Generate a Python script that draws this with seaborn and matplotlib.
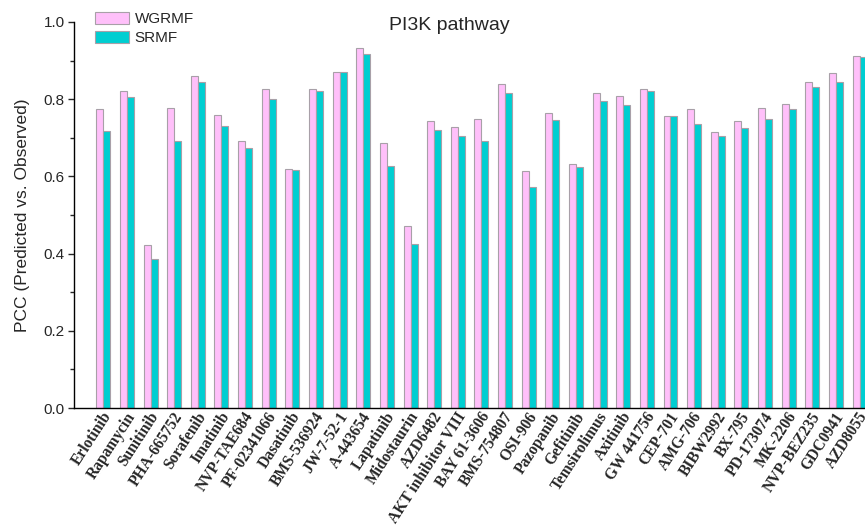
import numpy as np
import pandas as pd
import seaborn as sns
import matplotlib
matplotlib.use('Agg')
import matplotlib.pyplot as plt
import matplotlib.transforms as mtransforms
from matplotlib.ticker import MultipleLocator, FormatStrFormatter

drugs = ['Erlotinib', 'Rapamycin', 'Sunitinib', 'PHA-665752', 'Sorafenib', 'Imatinib',
         'NVP-TAE684', 'PF-02341066', 'Dasatinib', 'BMS-536924', 'JW-7-52-1', 'A-443654',
         'Lapatinib', 'Midostaurin', 'AZD6482', 'AKT inhibitor VIII', 'BAY 61-3606',
         'BMS-754807', 'OSI-906', 'Pazopanib', 'Gefitinib', 'Temsirolimus', 'Axitinib',
         'GW 441756', 'CEP-701', 'AMG-706', 'BIBW2992', 'BX-795', 'PD-173074', 'MK-2206',
         'NVP-BEZ235', 'GDC0941', 'AZD8055']

wgrmf = [0.774, 0.822, 0.422, 0.778, 0.860, 0.758, 0.693, 0.827, 0.619, 0.826, 0.870,
         0.932, 0.686, 0.471, 0.743, 0.729, 0.749, 0.839, 0.615, 0.763, 0.631, 0.817,
         0.807, 0.826, 0.756, 0.774, 0.716, 0.743, 0.776, 0.788, 0.845, 0.868, 0.913]

srmf = [0.718, 0.806, 0.385, 0.692, 0.844, 0.730, 0.673, 0.801, 0.617, 0.821, 0.871,
        0.918, 0.628, 0.426, 0.721, 0.704, 0.693, 0.816, 0.572, 0.747, 0.625, 0.796,
        0.784, 0.822, 0.756, 0.736, 0.704, 0.725, 0.750, 0.775, 0.832, 0.845, 0.909]

methods = ['WGRMF', 'SRMF']
colors = ['#FFC0FA', '#00CED1']

df = pd.DataFrame({
    'drug': drugs * 2,
    'pcc': wgrmf + srmf,
    'method': ['WGRMF'] * len(drugs) + ['SRMF'] * len(drugs),
})

sns.set_style('ticks')
plt.rcParams['font.family'] = ['Liberation Sans', 'DejaVu Sans']

fig = plt.figure(figsize=(8.65, 5.27), dpi=100)
ax = fig.add_axes([74/865, 119/527, 791/865, 386/527])

sns.barplot(data=df, x='drug', y='pcc', hue='method', order=drugs, hue_order=methods,
            palette=colors, width=0.59, edgecolor='#a8a0a8', linewidth=0.8,
            saturation=1, ax=ax)

ax.set_xlim(-1.24, 32.23)
ax.set_ylim(0, 1.0)
ax.yaxis.set_major_locator(MultipleLocator(0.2))
ax.yaxis.set_minor_locator(MultipleLocator(0.1))
ax.yaxis.set_major_formatter(FormatStrFormatter('%.1f'))
ax.tick_params(axis='y', which='major', length=4.5, width=1, labelsize=11, pad=2)
ax.tick_params(axis='y', which='minor', length=3, width=1)
ax.tick_params(axis='x', length=0, pad=4)
ax.set_xlabel('')
ax.set_ylabel('PCC (Predicted vs. Observed)', fontsize=12.5, labelpad=10)

# shift rotated labels a little to the right, like the original
offset = mtransforms.ScaledTranslation(5/100, 0, fig.dpi_scale_trans)
for lab in ax.get_xticklabels():
    lab.set_family('Liberation Serif')
    lab.set_fontweight('bold')
    lab.set_fontsize(11.2)
    lab.set_rotation(57)
    lab.set_ha('right')
    lab.set_va('center')
    lab.set_rotation_mode('anchor')
    lab.set_transform(lab.get_transform() + offset)

for s in ['top', 'right']:
    ax.spines[s].set_visible(False)
for s in ['left', 'bottom']:
    ax.spines[s].set_linewidth(1)
    ax.spines[s].set_color('black')

ax.legend(loc='upper left', bbox_to_anchor=(95/865, 1 - 12/527),
          bbox_transform=fig.transFigure, frameon=False, fontsize=11,
          handlelength=2.2, handleheight=0.85, labelspacing=0.3,
          handletextpad=0.4, borderpad=0, borderaxespad=0, title=None)

fig.text(449/865, 1 - 25/527, 'PI3K pathway', ha='center', va='center', fontsize=14)

fig.savefig('out.png', dpi=100)
